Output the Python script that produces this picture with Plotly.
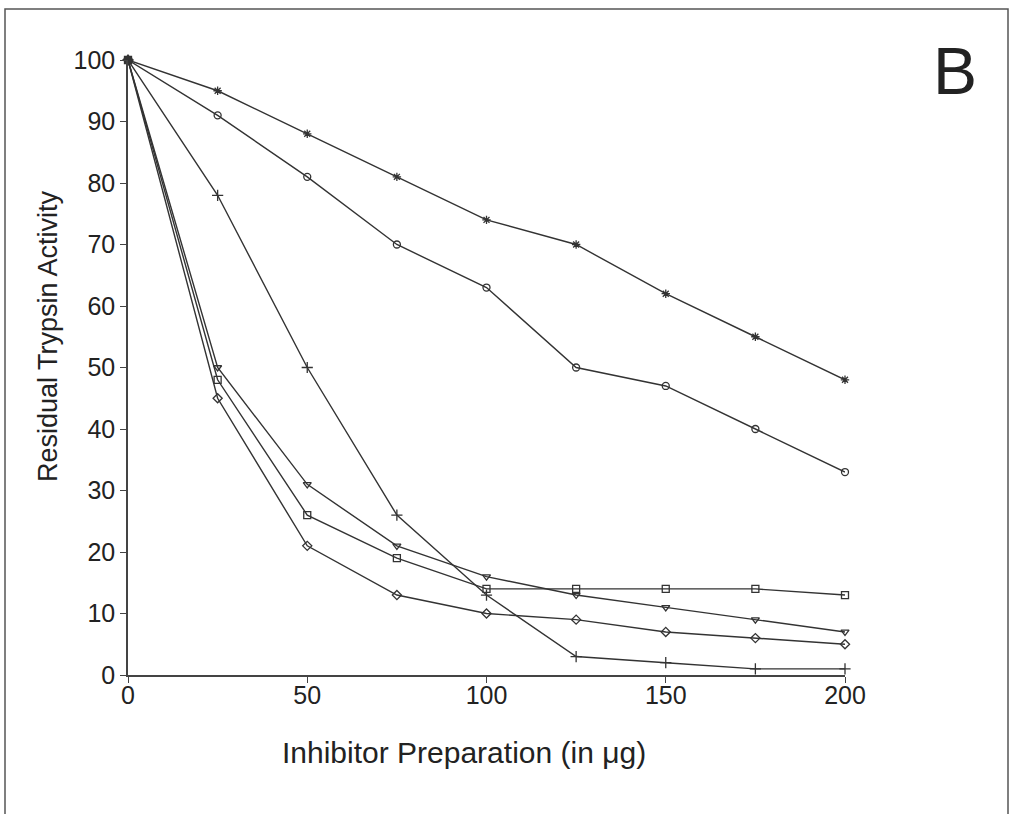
import plotly.graph_objects as go

# Inhibitor amount (µg) and residual trypsin activity for each preparation
dose = [0, 25, 50, 75, 100, 125, 150, 175, 200]
prep_star = [100, 95, 88, 81, 74, 70, 62, 55, 48]
prep_circle = [100, 91, 81, 70, 63, 50, 47, 40, 33]
prep_plus = [100, 78, 50, 26, 13, 3, 2, 1, 1]
prep_tridown = [100, 50, 31, 21, 16, 13, 11, 9, 7]
prep_square = [100, 48, 26, 19, 14, 14, 14, 14, 13]
prep_diamond = [100, 45, 21, 13, 10, 9, 7, 6, 5]

x_ticks = [0, 50, 100, 150, 200]
y_ticks = [0, 10, 20, 30, 40, 50, 60, 70, 80, 90, 100]

ink = "#333333"
font_family = "Liberation Sans, Arial, Helvetica, sans-serif"

series = [
    (prep_star, "asterisk-open", 7),
    (prep_circle, "circle-open", 7),
    (prep_plus, "cross-thin-open", 8),
    (prep_tridown, "triangle-down-open", 7),
    (prep_square, "square-open", 7),
    (prep_diamond, "diamond-open", 7),
]

fig = go.Figure()
for values, symbol, size in series:
    fig.add_trace(go.Scatter(
        x=dose, y=values, mode="lines+markers",
        line=dict(color=ink, width=1.4),
        marker=dict(symbol=symbol, size=size, color=ink,
                    line=dict(color=ink, width=1.3)),
        cliponaxis=False, showlegend=False,
    ))

# common starting point drawn as a solid block
fig.add_trace(go.Scatter(
    x=[dose[0]], y=[prep_square[0]], mode="markers",
    marker=dict(symbol="square", size=8, color=ink),
    cliponaxis=False, showlegend=False,
))

axis_common = dict(
    showgrid=False, zeroline=False, showline=True,
    linecolor="#444", linewidth=1.5,
    ticks="outside", ticklen=6, tickwidth=1.3, tickcolor="#444",
    tickfont=dict(family=font_family, size=25, color="#222"),
)

fig.update_xaxes(range=[0, 200], tickvals=x_ticks, ticklabelstandoff=-9,
                 **axis_common)
fig.update_yaxes(range=[0, 100], tickvals=y_ticks, **axis_common)

W, H = 1012, 814
left, right, top, bottom = 128, 845, 60, 675
pw, ph = right - left, bottom - top

def px(xp):
    return (xp - left) / pw

def py(yp):
    return (bottom - yp) / ph

fig.update_layout(
    width=W, height=H,
    margin=dict(l=left, r=W - right, t=top, b=H - bottom),
    paper_bgcolor="white", plot_bgcolor="white",
    shapes=[dict(
        type="rect", xref="paper", yref="paper",
        x0=px(5), x1=px(1008), y0=py(830), y1=py(9),
        line=dict(color="#555", width=1.5), layer="below",
    )],
    annotations=[
        dict(text="Inhibitor Preparation (in μg)", xref="paper", yref="paper",
             x=px(464), y=py(752), xanchor="center", yanchor="middle",
             showarrow=False,
             font=dict(family=font_family, size=30, color="#222")),
        dict(text="Residual Trypsin Activity", xref="paper", yref="paper",
             x=px(48), y=py(336), xanchor="center", yanchor="middle",
             textangle=-90, showarrow=False,
             font=dict(family=font_family, size=27, color="#222")),
        dict(text="B", xref="paper", yref="paper",
             x=px(955), y=py(71), xanchor="center", yanchor="middle",
             showarrow=False,
             font=dict(family=font_family, size=66, color="#222")),
    ],
)

fig.write_html("out.html")
